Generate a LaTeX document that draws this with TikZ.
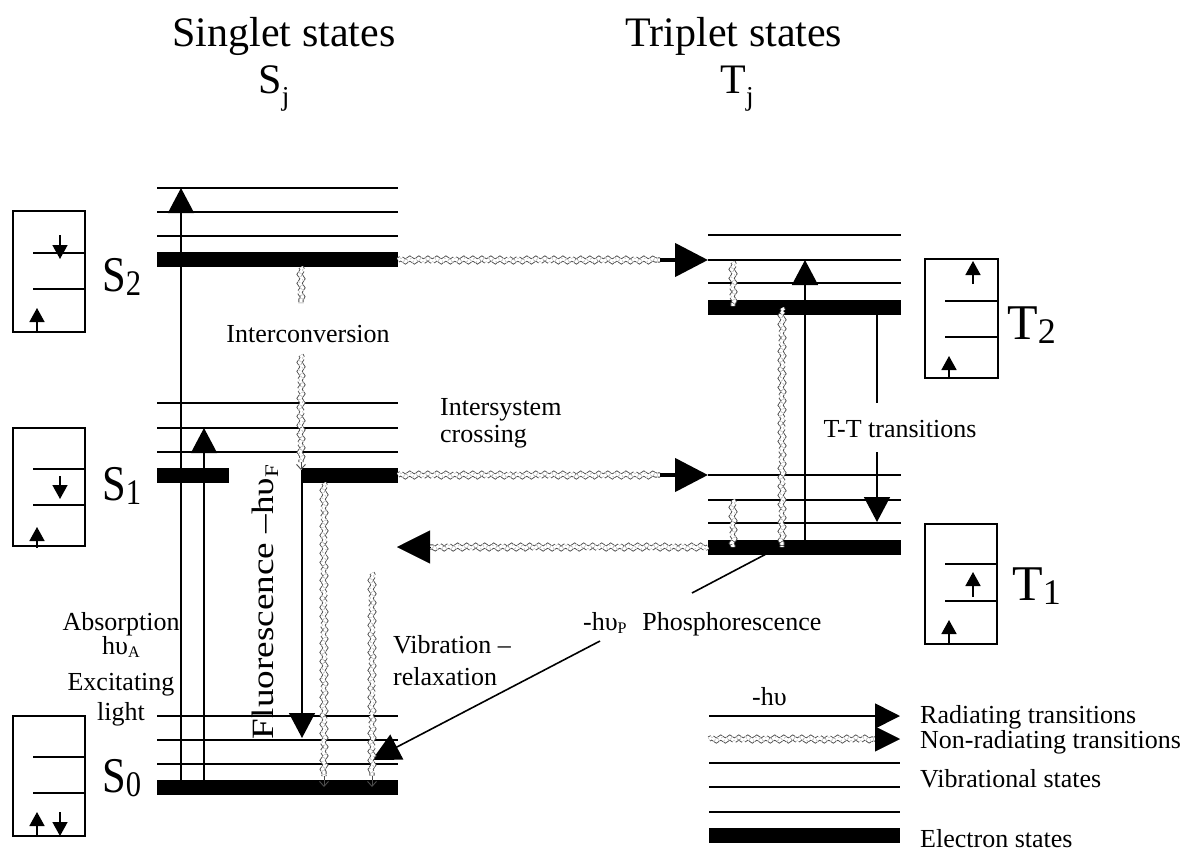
\documentclass[tikz,border=0pt]{standalone}
\usepackage{fontspec}
\setmainfont{Liberation Serif}
\usetikzlibrary{arrows.meta,decorations.pathmorphing,calc}
\newcommand{\lsub}[2]{#1\raisebox{-0.08em}{\scalebox{0.72}{#2}}}
\newcommand{\jsub}{\raisebox{-0.3em}{\scalebox{0.65}{j}}}
\newcommand{\tsub}[1]{\raisebox{-0.15em}{\scalebox{0.62}{#1}}}
\tikzset{
  lvl/.style={line width=1.6pt},
  estate/.style={fill=black, draw=none},
  ebox/.style={draw, line width=1.6pt},
  rad/.style={line width=1.6pt, -{Triangle[length=25pt,width=26pt]}},
  boxarr/.style={line width=1.6pt, -{Triangle[length=14pt,width=15pt]}},
  plain/.style={line width=1.6pt},
  phtip/.style={line width=1.6pt, -{Triangle[length=28pt,width=28pt]}},
  wavy/.style={decorate, decoration={snake, amplitude=1.5pt, segment length=9pt},
    draw=black!70, line width=0.9pt, double=white, double distance=3.4pt,
    dash pattern=on 3pt off 0.8pt},
  wtip/.style={line width=4.5pt, -{Triangle[length=33pt,width=33pt]}},
  wtipthin/.style={line width=0.4pt, -{Triangle[length=33pt,width=33pt]}},
  legtip/.style={line width=0.4pt, -{Triangle[length=25pt,width=25pt]}},
  legrad/.style={line width=1.6pt, -{Triangle[length=25pt,width=25pt]}},
  vtip/.style={draw=black!70, line width=0.9pt, -{Straight Barb[length=5pt,width=9pt]}},
  lab/.style={font=\fontsize{26}{30}\selectfont, inner sep=0pt},
  flab/.style={font=\fontsize{31}{34}\selectfont, inner sep=0pt},
  big/.style={font=\fontsize{50}{50}\selectfont, inner sep=0pt},
  ttl/.style={font=\fontsize{42}{46}\selectfont, inner sep=0pt},
}
\begin{document}
\begin{tikzpicture}[x=1pt,y=-1pt]
\useasboundingbox (0,0) rectangle (1191,851);

% ---------- titles ----------
\node[ttl, anchor=base] (tsing) at (284,47) {Singlet states};
\node[ttl, anchor=base] (tsj) at (274,93) {S\jsub};
\node[ttl, anchor=base] (ttrip) at (734,47) {Triplet states};
\node[ttl, anchor=base] (ttj) at (737,93) {T\jsub};

% ---------- singlet levels ----------
\foreach \y in {188,212,236,403,428,452,716,740,764}
  \draw[lvl] (157,\y) -- (398,\y);
\fill[estate] (157,252) rectangle (398,267);
\fill[estate] (157,468) rectangle (229,483);
\fill[estate] (302,468) rectangle (398,483);
\fill[estate] (157,780) rectangle (398,795);

% ---------- triplet levels ----------
\foreach \y in {235,260,283,475,500,523}
  \draw[lvl] (708,\y) -- (901,\y);
\fill[estate] (708,300) rectangle (901,315);
\fill[estate] (708,540) rectangle (901,555);

% ---------- legend levels ----------
\foreach \y in {763,787,812}
  \draw[lvl] (709,\y) -- (900,\y);
\fill[estate] (709,828) rectangle (900,843);

% ---------- electron boxes ----------
\draw[ebox] (13,211) rectangle (85,332);
\draw[lvl] (33,253) -- (85,253); \draw[lvl] (33,289) -- (85,289);
\draw[boxarr] (60,235) -- (60,259);
\draw[boxarr] (37,333) -- (37,308);

\draw[ebox] (13,428) rectangle (85,546);
\draw[lvl] (33,469) -- (85,469); \draw[lvl] (33,505) -- (85,505);
\draw[boxarr] (60,476) -- (60,499);
\draw[boxarr] (37,548) -- (37,527);

\draw[ebox] (13,716) rectangle (85,836);
\draw[lvl] (33,757) -- (85,757); \draw[lvl] (33,793) -- (85,793);
\draw[boxarr] (37,837) -- (37,812);
\draw[boxarr] (60,812) -- (60,836);

\draw[ebox] (925,259) rectangle (998,378);
\draw[lvl] (945,301) -- (998,301); \draw[lvl] (945,337) -- (998,337);
\draw[boxarr] (973,284) -- (973,261);
\draw[boxarr] (949,379) -- (949,356);

\draw[ebox] (925,524) rectangle (997,644);
\draw[lvl] (945,564) -- (997,564); \draw[lvl] (945,601) -- (997,601);
\draw[boxarr] (973,597) -- (973,572);
\draw[boxarr] (949,645) -- (949,620);

% ---------- level labels ----------
\node[big, anchor=base west] (lS2) at (102,291) {\scalebox{0.85}[1]{\lsub{S}{2}}};
\node[big, anchor=base west] (lS1) at (102,500) {\scalebox{0.85}[1]{\lsub{S}{1}}};
\node[big, anchor=base west] (lS0) at (102,792) {\scalebox{0.85}[1]{\lsub{S}{0}}};
\node[big, anchor=base west] (lT2) at (1007,339) {\lsub{T}{2}};
\node[big, anchor=base west] (lT1) at (1012,600) {\lsub{T}{1}};

% ---------- coordinates ----------
\coordinate (abs1a) at (181,780); \coordinate (abs1b) at (181,188);
\coordinate (abs2a) at (204,780); \coordinate (abs2b) at (204,428);
\coordinate (flua) at (302,470);  \coordinate (flub) at (302,738);
\coordinate (ttua) at (805,540);  \coordinate (ttub) at (805,260);
\coordinate (ttda) at (877,315);  \coordinate (ttdm) at (877,403);
\coordinate (ttdn) at (877,452);  \coordinate (ttdb) at (877,522);
\coordinate (pha) at (768,553);   \coordinate (phm) at (692,593);
\coordinate (phn) at (600,641);   \coordinate (phb) at (372,760);

% ---------- radiating transitions ----------
\draw[rad] (abs1a) -- (abs1b);
\draw[rad] (abs2a) -- (abs2b);
\draw[rad] (flua) -- (flub);
\draw[rad] (ttua) -- (ttub);
\draw[plain] (ttda) -- (ttdm);
\draw[rad] (ttdn) -- (ttdb);
\draw[plain] (pha) -- (phm);
\draw[phtip] (phn) -- (phb);

% ---------- non-radiating (wavy) transitions ----------
\coordinate (w1a) at (398,260); \coordinate (w1m) at (660,260); \coordinate (w1b) at (708,260);
\draw[wavy] (w1a) -- (w1m); \draw[wtip] (w1m) -- (w1b);
\coordinate (w2a) at (398,475); \coordinate (w2m) at (660,475); \coordinate (w2b) at (708,475);
\draw[wavy] (w2a) -- (w2m); \draw[wtip] (w2m) -- (w2b);
\coordinate (w3a) at (708,547); \coordinate (w3m) at (430,547); \coordinate (w3b) at (397,547);
\draw[wavy] (w3a) -- (w3m); \draw[wtipthin] (w3m) -- (w3b);

\coordinate (ic1) at (301,267); \coordinate (ic2) at (301,303);
\coordinate (ic3) at (301,355); \coordinate (ic4) at (301,462); \coordinate (ic5) at (301,470);
\draw[wavy] (ic1) -- (ic2);
\draw[wavy] (ic3) -- (ic4); \draw[vtip] (ic4) -- (ic5);

\coordinate (v1a) at (324,483); \coordinate (v1m) at (324,776); \coordinate (v1b) at (324,787);
\draw[wavy] (v1a) -- (v1m); \draw[vtip] (v1m) -- (v1b);
\coordinate (v2a) at (372,573); \coordinate (v2m) at (372,776); \coordinate (v2b) at (372,787);
\draw[wavy] (v2a) -- (v2m); \draw[vtip] (v2m) -- (v2b);

\coordinate (t1a) at (733,262); \coordinate (t1b) at (733,306);
\draw[wavy] (t1a) -- (t1b);
\coordinate (t2a) at (782,308); \coordinate (t2b) at (782,547);
\draw[wavy] (t2a) -- (t2b);
\coordinate (t3a) at (733,500); \coordinate (t3b) at (733,547);
\draw[wavy] (t3a) -- (t3b);

% ---------- legend arrows ----------
\coordinate (lr1) at (709,716); \coordinate (lr2) at (900,716);
\draw[legrad] (lr1) -- (lr2);
\coordinate (ln1) at (709,739); \coordinate (ln2) at (875,739); \coordinate (ln3) at (900,739);
\draw[wavy] (ln1) -- (ln2); \draw[legtip] (ln2) -- (ln3);

% ---------- labels ----------
\node[lab, anchor=base] (tic) at (308,342) {Interconversion};
\node[lab, anchor=base west] (tisc1) at (440,415) {Intersystem};
\node[lab, anchor=base west] (tisc2) at (440,442) {crossing};
\node[lab, anchor=base] (ttt) at (900,437) {T-T transitions};
\node[lab, anchor=base] (tab1) at (121,630) {Absorption};
\node[lab, anchor=base] (tab2) at (121,654) {hυ\tsub{A}};
\node[lab, anchor=base] (tab3) at (121,690) {Excitating};
\node[lab, anchor=base] (tab4) at (121,720) {light};
\node[flab, rotate=90] (tflu) at (265,602) {\scalebox{1.2}[1]{Fluorescence –hυ\tsub{F}}};
\node[lab, anchor=base west] (tvr1) at (393,653) {Vibration –};
\node[lab, anchor=base west] (tvr2) at (393,685) {relaxation};
\node[lab, anchor=base west] (tph) at (583,630) {-hυ\tsub{P}\hspace{0.6em}Phosphorescence};
\node[lab, anchor=base west] (thv) at (752,705) {-hυ};
\node[lab, anchor=base west] (lg1) at (920,723) {Radiating transitions};
\node[lab, anchor=base west] (lg2) at (920,748) {Non-radiating transitions};
\node[lab, anchor=base west] (lg3) at (920,787) {Vibrational states};
\node[lab, anchor=base west] (lg4) at (920,847) {Electron states};
\end{tikzpicture}
\end{document}
